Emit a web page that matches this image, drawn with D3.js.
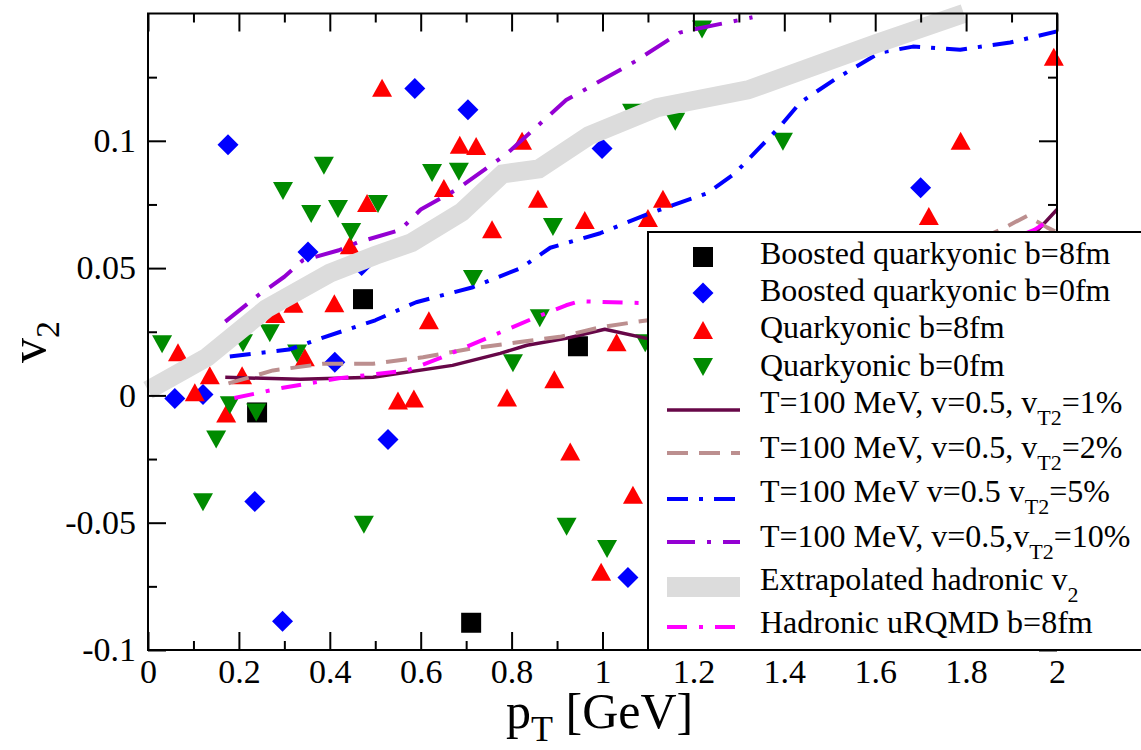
<!DOCTYPE html>
<html>
<head>
<meta charset="utf-8">
<script src="https://cdn.jsdelivr.net/npm/d3@7"></script>
<style>
  body { margin: 0; background: #fff; }
  text { font-family: "Liberation Serif", "Times New Roman", serif; }
</style>
</head>
<body>
<svg id="chart" width="1141" height="750"></svg>
<script>
// ---- axis ticks ----
const xMajor = [0, 0.2, 0.4, 0.6, 0.8, 1, 1.2, 1.4, 1.6, 1.8, 2];
const xTickLabels = ["0", "0.2", "0.4", "0.6", "0.8", "1", "1.2", "1.4", "1.6", "1.8", "2"];
const xMinor = [0.1, 0.3, 0.5, 0.7, 0.9, 1.1, 1.3, 1.5, 1.7, 1.9];
const yMajor = [-0.1, -0.05, 0, 0.05, 0.1];
const yTickLabels = ["-0.1", "-0.05", "0", "0.05", "0.1"];
const yMinor = [-0.075, -0.025, 0.025, 0.075, 0.125];

// ---- boosted quarkyonic, b = 8 fm ----
const boosted8_pt = [0.24, 0.473, 0.711, 0.946];
const boosted8_v2 = [-0.0067, 0.0378, -0.0893, 0.0193];

// ---- boosted quarkyonic, b = 0 fm ----
const boosted0_pt = [0.059, 0.121, 0.176, 0.235, 0.296, 0.352, 0.411, 0.47, 0.528, 0.587, 0.704, 0.999, 1.056, 1.70];
const boosted0_v2 = [-0.0012, 0.0004, 0.0984, -0.0417, -0.0887, 0.0563, 0.013, 0.051, -0.0173, 0.1205, 0.1122, 0.097, -0.0715, 0.0816];

// ---- quarkyonic, b = 8 fm ----
const quark8_pt = [0.066, 0.103, 0.136, 0.172, 0.207, 0.28, 0.32, 0.345, 0.41, 0.444, 0.482, 0.515, 0.55, 0.585,
  0.618, 0.651, 0.686, 0.722, 0.757, 0.79, 0.823, 0.858, 0.894, 0.929, 0.961, 0.997, 1.031, 1.067, 1.10, 1.133,
  1.718, 1.788, 1.993];
const quark8_v2 = [0.0169, 0.0012, 0.0079, -0.0071, 0.0079, 0.032, 0.036, 0.015, 0.0362, 0.059, 0.0756, 0.1208, -0.002, -0.0012,
  0.0295, 0.0815, 0.0984, 0.098, 0.0653, -0.0008, 0.1, 0.0772, 0.0063, -0.022, 0.0689, -0.0693, 0.0209, -0.039, 0.0697, 0.0772,
  0.0705, 0.1, 0.133];

// ---- quarkyonic, b = 0 fm ----
const quark0_pt = [0.031, 0.121, 0.15, 0.18, 0.209, 0.238, 0.268, 0.297, 0.328, 0.359, 0.387, 0.418, 0.447, 0.475,
  0.506, 0.625, 0.684, 0.715, 0.803, 0.862, 0.891, 0.921, 1.01, 1.065, 1.094, 1.16, 1.219, 1.397];
const quark0_v2 = [0.0201, -0.042, -0.0173, -0.0039, 0.0205, -0.0067, 0.0244, 0.0803, 0.0165, 0.0712, 0.0902, 0.0732, 0.0642, -0.0508,
  0.0752, 0.0874, 0.0878, 0.0457, 0.0126, 0.0303, 0.0661, -0.0516, -0.0603, 0.111, 0.0205, 0.1075, 0.1437, 0.0996];

// ---- blast-wave curves, T = 100 MeV, v = 0.5 ----
const vt1_pt = [0.17, 0.335, 0.495, 0.67, 0.775, 0.834, 0.92, 1.005, 1.097, 1.2, 1.4, 1.6, 1.8, 1.9, 1.956, 2.0];
const vt1_v2 = [0.0071, 0.0063, 0.0071, 0.0118, 0.0165, 0.0197, 0.0224, 0.026, 0.0224, 0.025, 0.03, 0.037, 0.047, 0.055, 0.0645, 0.073];

const vt2_pt = [0.177, 0.275, 0.385, 0.495, 0.605, 0.715, 0.818, 0.906, 0.994, 1.067, 1.2, 1.4, 1.6, 1.75, 1.875, 1.934, 1.978, 2.0];
const vt2_v2 = [0.0047, 0.0098, 0.0124, 0.0124, 0.015, 0.0185, 0.021, 0.023, 0.0267, 0.0287, 0.032, 0.038, 0.046, 0.055, 0.065, 0.0705, 0.066, 0.064];

const vt5_pt = [0.18, 0.31, 0.39, 0.5, 0.59, 0.715, 0.82, 0.885, 0.995, 1.105, 1.23, 1.29, 1.39, 1.435, 1.51, 1.61, 1.683, 1.787, 1.897, 2.0];
const vt5_v2 = [0.0153, 0.018, 0.023, 0.0295, 0.0366, 0.0425, 0.05, 0.058, 0.0637, 0.0716, 0.0794, 0.087, 0.1055, 0.115, 0.124, 0.1346, 0.137, 0.1358, 0.1386, 0.143];

const vt10_pt = [0.17, 0.24, 0.3, 0.34, 0.42, 0.46, 0.555, 0.6, 0.68, 0.79, 0.92, 1.07, 1.17, 1.2, 1.33];
const vt10_v2 = [0.029, 0.039, 0.0466, 0.053, 0.057, 0.06, 0.065, 0.073, 0.081, 0.095, 0.116, 0.131, 0.1425, 0.1437, 0.1485];

// ---- extrapolated hadronic v2 ----
const extrap_pt = [0, 0.13, 0.26, 0.4, 0.5, 0.58, 0.69, 0.78, 0.86, 0.97, 1.12, 1.32, 1.6, 1.795];
const extrap_v2 = [0.002, 0.015, 0.034, 0.048, 0.055, 0.06, 0.072, 0.087, 0.089, 0.102, 0.113, 0.12, 0.138, 0.150];

// ---- hadronic uRQMD, b = 8 fm ----
const urqmd_pt = [0.19, 0.297, 0.42, 0.57, 0.642, 0.752, 0.848, 0.92, 0.95, 1.097, 1.3, 1.5, 1.7, 1.85, 1.95, 1.985];
const urqmd_v2 = [-0.001, 0.003, 0.0067, 0.0098, 0.0146, 0.023, 0.0303, 0.0354, 0.037, 0.0362, 0.037, 0.042, 0.05, 0.058, 0.065, 0.069];

const legendLabels = [
  [["Boosted quarkyonic b=8fm", false]],
  [["Boosted quarkyonic b=0fm", false]],
  [["Quarkyonic b=8fm", false]],
  [["Quarkyonic b=0fm", false]],
  [["T=100 MeV, v=0.5, v", false], ["T2", true], ["=1%", false]],
  [["T=100 MeV, v=0.5, v", false], ["T2", true], ["=2%", false]],
  [["T=100 MeV v=0.5 v", false], ["T2", true], ["=5%", false]],
  [["T=100 MeV, v=0.5,v", false], ["T2", true], ["=10%", false]],
  [["Extrapolated hadronic v", false], ["2", true]],
  [["Hadronic uRQMD b=8fm", false]]
];

// ---------------------------------------------------------------
const svg = d3.select("#chart");
const plotL = 148, plotR = 1057, plotT = 13.5, plotB = 650;
const serif = "'Liberation Serif', 'Times New Roman', serif";

const x = d3.scaleLinear().domain([0, 2]).range([plotL, plotR]);
const y = d3.scaleLinear().domain([-0.1, 0.15]).range([plotB, plotT]);

const zip = (a, b) => a.map((d, i) => [d, b[i]]);

const C = {
  black: "#000000", blue: "#0000ff", red: "#ff0000", green: "#008b00",
  maroon: "#670748", brown: "#bc8f8f", violet: "#9400d3", grey: "#dcdcdc", magenta: "#ff00ff"
};

const shapes = {
  square: "M-10,-10h20v20h-20Z",
  diamond: "M0,-10.5L10.5,0L0,10.5L-10.5,0Z",
  up: "M0,-9L10,9L-10,9Z",
  down: "M0,9L10,-9L-10,-9Z"
};

const markerSets = [
  { pts: zip(boosted8_pt, boosted8_v2), shape: "square", color: C.black },
  { pts: zip(boosted0_pt, boosted0_v2), shape: "diamond", color: C.blue },
  { pts: zip(quark8_pt, quark8_v2), shape: "up", color: C.red },
  { pts: zip(quark0_pt, quark0_v2), shape: "down", color: C.green }
];

const line = d3.line().x(d => x(d[0])).y(d => y(d[1]));

const curveSets = [
  { pts: zip(vt1_pt, vt1_v2), color: C.maroon, width: 3.5, dash: null },
  { pts: zip(vt2_pt, vt2_v2), color: C.brown, width: 4, dash: "21,11" },
  { pts: zip(vt5_pt, vt5_v2), color: C.blue, width: 4, dash: "21,11,4,11" },
  { pts: zip(vt10_pt, vt10_v2), color: C.violet, width: 4, dash: "28,12,4,12" },
  { pts: zip(extrap_pt, extrap_v2), color: C.grey, width: 19, dash: null, band: true },
  { pts: zip(urqmd_pt, urqmd_v2), color: C.magenta, width: 4, dash: "20,12,4,12" }
];

// scatter markers
const gMarks = svg.append("g");
markerSets.forEach(s => {
  gMarks.append("g").selectAll("path").data(s.pts).join("path")
    .attr("d", shapes[s.shape])
    .attr("transform", d => `translate(${x(d[0])},${y(d[1])})`)
    .attr("fill", s.color);
});

// curves
const gCurves = svg.append("g").attr("fill", "none");
curveSets.forEach(s => {
  gCurves.append("path")
    .attr("d", line(s.pts))
    .attr("stroke", s.color)
    .attr("stroke-width", s.width)
    .attr("stroke-dasharray", s.dash)
    .attr("stroke-linejoin", s.band ? "miter" : "round")
    .attr("stroke-linecap", "butt");
});

// axes: inward ticks on all four sides
function styleAxis(g, size) {
  g.select(".domain").remove();
  g.selectAll(".tick line").attr("stroke", "#000").attr("stroke-width", 2);
  g.attr("font-size", size).attr("font-family", serif);
  g.selectAll("text").attr("fill", "#000").attr("font-family", serif);
}

svg.append("g").attr("transform", `translate(0,${plotB})`)
  .call(d3.axisBottom(x).tickValues(xMajor).tickSize(-18).tickPadding(9).tickFormat((d, i) => xTickLabels[i]))
  .call(g => styleAxis(g, 34));
svg.append("g").attr("transform", `translate(0,${plotB})`)
  .call(d3.axisBottom(x).tickValues(xMinor).tickSize(-9).tickFormat(""))
  .call(g => styleAxis(g, 34));
svg.append("g").attr("transform", `translate(0,${plotT})`)
  .call(d3.axisTop(x).tickValues(xMajor).tickSize(-18).tickFormat(""))
  .call(g => styleAxis(g, 34));
svg.append("g").attr("transform", `translate(0,${plotT})`)
  .call(d3.axisTop(x).tickValues(xMinor).tickSize(-9).tickFormat(""))
  .call(g => styleAxis(g, 34));

svg.append("g").attr("transform", `translate(${plotL},0)`)
  .call(d3.axisLeft(y).tickValues(yMajor).tickSize(-18).tickPadding(12).tickFormat((d, i) => yTickLabels[i]))
  .call(g => styleAxis(g, 34));
svg.append("g").attr("transform", `translate(${plotL},0)`)
  .call(d3.axisLeft(y).tickValues(yMinor).tickSize(-9).tickFormat(""))
  .call(g => styleAxis(g, 34));
svg.append("g").attr("transform", `translate(${plotR},0)`)
  .call(d3.axisRight(y).tickValues(yMajor).tickSize(-18).tickFormat(""))
  .call(g => styleAxis(g, 34));
svg.append("g").attr("transform", `translate(${plotR},0)`)
  .call(d3.axisRight(y).tickValues(yMinor).tickSize(-9).tickFormat(""))
  .call(g => styleAxis(g, 34));

// frame
svg.append("rect")
  .attr("x", plotL).attr("y", plotT)
  .attr("width", plotR - plotL).attr("height", plotB - plotT)
  .attr("fill", "none").attr("stroke", "#000").attr("stroke-width", 2);

// axis titles
const xt = svg.append("text").attr("x", 506).attr("y", 728).attr("font-size", 50)
  .attr("font-family", serif).attr("fill", "#000");
xt.append("tspan").text("p");
xt.append("tspan").attr("font-size", 36).attr("dy", 13).text("T");
xt.append("tspan").attr("dy", -13).text(" [GeV]");

const yt = svg.append("text")
  .attr("transform", "translate(45,342) rotate(-90)")
  .attr("text-anchor", "middle").attr("font-size", 50)
  .attr("font-family", serif).attr("fill", "#000");
yt.append("tspan").text("v");
yt.append("tspan").attr("font-size", 34).attr("dy", 14).text("2");

// legend
const lg = svg.append("g");
lg.append("rect").attr("x", 648).attr("y", 232).attr("width", 600).attr("height", plotB - 232)
  .attr("fill", "#fff").attr("stroke", "#000").attr("stroke-width", 2);

const rowY = [257, 293, 330, 367, 410, 453, 499, 542, 587, 627];
const baseY = [264, 301, 338, 376, 413, 458, 502, 547, 590, 633];
const symX = 703, sampleX0 = 667, sampleX1 = 740, textX = 760;

markerSets.forEach((s, i) => {
  lg.append("path").attr("d", shapes[s.shape])
    .attr("transform", `translate(${symX},${rowY[i]})`).attr("fill", s.color);
});
curveSets.forEach((s, j) => {
  const i = j + 4;
  if (s.band) {
    lg.append("rect").attr("x", sampleX0).attr("y", rowY[i] - 10)
      .attr("width", sampleX1 - sampleX0).attr("height", 20).attr("fill", s.color);
  } else {
    lg.append("line").attr("x1", sampleX0).attr("x2", sampleX1)
      .attr("y1", rowY[i]).attr("y2", rowY[i])
      .attr("stroke", s.color).attr("stroke-width", s.width)
      .attr("stroke-dasharray", s.dash);
  }
});
legendLabels.forEach((parts, i) => {
  const t = lg.append("text").attr("x", textX).attr("y", baseY[i]).attr("font-size", 32)
    .attr("font-family", serif).attr("fill", "#000");
  let down = false;
  parts.forEach(([str, sub]) => {
    const sp = t.append("tspan").text(str);
    if (sub && !down) { sp.attr("font-size", 22).attr("dy", 12); down = true; }
    else if (!sub && down) { sp.attr("dy", -12); down = false; }
  });
});
</script>
</body>
</html>
